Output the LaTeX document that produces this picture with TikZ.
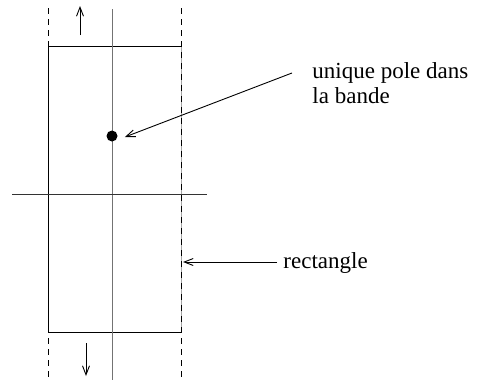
\documentclass[tikz,border=0pt]{standalone}
\usepackage{fontspec}
\setmainfont{Liberation Serif}
\usetikzlibrary{arrows.meta}
\begin{document}
\begin{tikzpicture}[x=1pt, y=-1pt, line width=0.9pt, >={Straight Barb[length=9pt, width=7pt]},
    label/.style={inner sep=0pt, anchor=base west, font=\fontsize{23}{25}\selectfont, align=left},
    band/.style={dash pattern=on 6pt off 5pt}]
    \useasboundingbox (0,0) rectangle (477,380);
    % rectangle and band
    \draw[gray!70] (181,46) -- (181,332);
    \draw (181,46) -- (48,46) -- (48,332) -- (181,332);
    \draw[band] (48,8) -- (48,380);
    \draw[band] (181,8) -- (181,380);
    % axes
    \draw[black!55] (112,9) -- (112,380);
    \draw[black!80] (12,194) -- (207,194);
    % directions of the band
    \coordinate (up0) at (80,35);
    \coordinate (up1) at (80,6);
    \coordinate (dn0) at (86,343);
    \coordinate (dn1) at (86,376);
    \draw[->] (up0) -- (up1);
    \draw[->] (dn0) -- (dn1);
    % pole
    \node (pole) at (112,136) [circle, fill, inner sep=0pt, minimum size=11pt] {};
    \node (poletext) at (312,103) [label] {unique pole dans\\la bande};
    \coordinate (poletail) at (292,73);
    \draw[->] (poletail) -- ([xshift=7pt, yshift=-1pt]pole.east);
    % rectangle label
    \node (recttext) at (283,268) [label] {rectangle};
    \coordinate (rectside) at (183,262);
    \coordinate (recttail) at (277,262);
    \draw[->] (recttail) -- (rectside);
\end{tikzpicture}
\end{document}
